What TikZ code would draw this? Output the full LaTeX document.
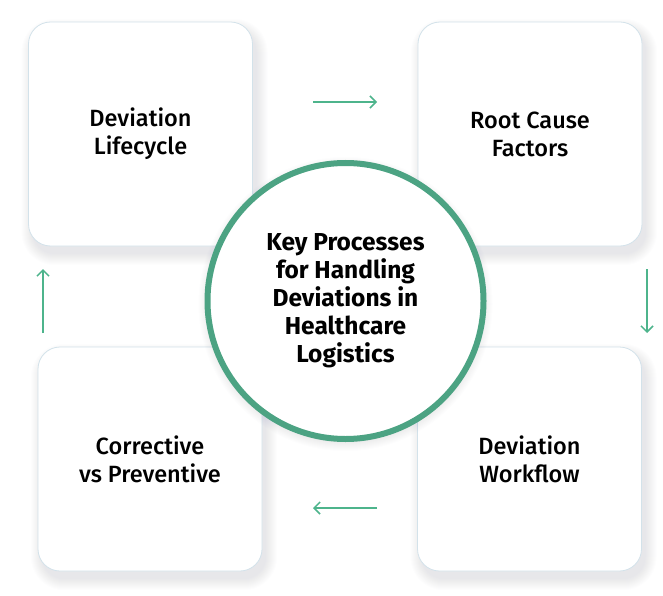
\documentclass[tikz,border=0pt]{standalone}
\usepackage{fontspec}
\setmainfont{Fira Sans}
\newfontfamily\cardfont{Fira Sans Medium}
\usetikzlibrary{arrows.meta}
\definecolor{ringgreen}{HTML}{4CA383}
\definecolor{arrowgreen}{HTML}{4DB48C}
\definecolor{cardedge}{HTML}{D3E2EA}
\definecolor{cardshadow}{HTML}{5E7F99}

\begin{document}
\begin{tikzpicture}[x=1pt,y=-1pt,
    card/.style={draw=cardedge, line width=0.8pt, fill=white, rounded corners=22pt,
        minimum width=224pt, minimum height=224pt, align=center,
        font=\cardfont\fontsize{23.5}{28}\selectfont},
    hub/.style={circle, draw=ringgreen, line width=6pt, fill=white, minimum size=276pt,
        align=center, font=\bfseries\fontsize{24.5}{28}\selectfont},
    haze/.style={fill=cardshadow, opacity=0.013},
    flow/.style={draw=arrowgreen, line width=1.5pt, -{Straight Barb[length=6pt,width=12pt]}}]
    \useasboundingbox[fill=white] (0,0) rectangle (663,596);

    % Soft shadows under the cards
    \foreach \cx/\cy in {140.5/134, 530/134, 529.5/459, 150/459}
        \foreach \k in {0,...,11}
            \fill[haze, rounded corners=22pt+\k pt]
                (\cx-112-\k+4, \cy-112-\k+8) rectangle (\cx+112+\k+4, \cy+112+\k+8);

    % Four process cards
    \node[card] (life) at (140.5,134) {Deviation\\Lifecycle};
    \node[card] (root) at (530,134) {Root Cause\\Factors};
    \node[card] (work) at (529.5,459) {Deviation\\Workflow};
    \node[card] (prev) at (150,459) {Corrective\\vs Preventive};

    % Halo round the central node
    \foreach \k in {0,...,8}
        \fill[haze] (345.5,304) circle (139+\k);

    % Central node
    \node[hub] (hub) at (345.5,301) {Key Processes\\for Handling\\Deviations in\\Healthcare\\Logistics};

    % Arrow end points between the cards
    \coordinate (f1a) at (313,102);
    \coordinate (f1b) at (377,102);
    \coordinate (f2a) at (647,269);
    \coordinate (f2b) at (647,333);
    \coordinate (f3a) at (377,508);
    \coordinate (f3b) at (313,508);
    \coordinate (f4a) at (43,333);
    \coordinate (f4b) at (43,269);

    % Arrows round the cycle
    \draw[flow] (f1a) -- (f1b);
    \draw[flow] (f2a) -- (f2b);
    \draw[flow] (f3a) -- (f3b);
    \draw[flow] (f4a) -- (f4b);
\end{tikzpicture}
\end{document}
